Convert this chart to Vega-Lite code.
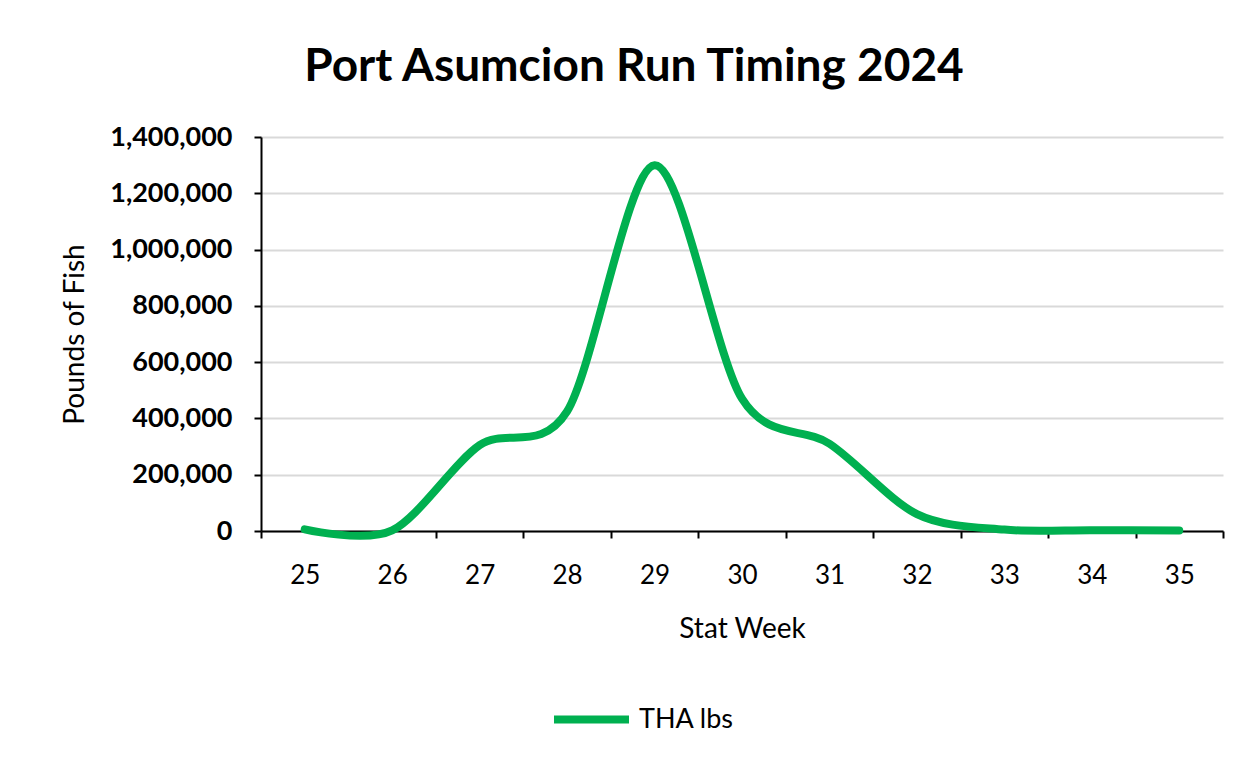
{
  "$schema": "https://vega.github.io/schema/vega-lite/v6.json",
  "autosize": "none",
  "width": 962,
  "height": 394,
  "padding": {"left": 261, "top": 137, "right": 36, "bottom": 230},
  "background": "white",
  "title": {
    "text": "Port Asumcion Run Timing 2024",
    "font": "Lato",
    "fontSize": 46,
    "fontWeight": "bold",
    "color": "black",
    "anchor": "middle",
    "dx": -108,
    "offset": 32
  },
  "data": {
    "values": [
      {"week": "25", "lbs": 6000, "series": "THA lbs"},
      {"week": "26", "lbs": 2000, "series": "THA lbs"},
      {"week": "27", "lbs": 305000, "series": "THA lbs"},
      {"week": "28", "lbs": 425000, "series": "THA lbs"},
      {"week": "29", "lbs": 1300000, "series": "THA lbs"},
      {"week": "30", "lbs": 470000, "series": "THA lbs"},
      {"week": "31", "lbs": 310000, "series": "THA lbs"},
      {"week": "32", "lbs": 60000, "series": "THA lbs"},
      {"week": "33", "lbs": 5000, "series": "THA lbs"},
      {"week": "34", "lbs": 3000, "series": "THA lbs"},
      {"week": "35", "lbs": 2000, "series": "THA lbs"}
    ]
  },
  "mark": {"type": "line", "interpolate": "cardinal", "tension": 0.1, "strokeWidth": 8, "strokeCap": "round"},
  "encoding": {
    "x": {
      "field": "week",
      "type": "ordinal",
      "bandPosition": 0.5,
      "scale": {"type": "band", "paddingInner": 0, "paddingOuter": 0},
      "axis": {
        "title": "Stat Week",
        "labelAngle": 0,
        "tickBand": "extent",
        "domainColor": "black",
        "domainWidth": 2,
        "tickColor": "black",
        "tickWidth": 2,
        "tickSize": 7,
        "labelPadding": 24,
        "labelFont": "Lato",
        "labelFontSize": 26,
        "labelColor": "black",
        "titleFont": "Lato",
        "titleFontSize": 28,
        "titleFontWeight": "normal",
        "titleColor": "black",
        "titlePadding": 27,
        "grid": false
      }
    },
    "y": {
      "field": "lbs",
      "type": "quantitative",
      "scale": {"domain": [0, 1400000], "nice": false},
      "axis": {
        "title": "Pounds of Fish",
        "values": [0, 200000, 400000, 600000, 800000, 1000000, 1200000, 1400000],
        "format": ",d",
        "domainColor": "black",
        "domainWidth": 2,
        "tickColor": "black",
        "tickWidth": 2,
        "tickSize": 7,
        "labelPadding": 22,
        "labelFont": "Lato",
        "labelFontSize": 27,
        "labelFontWeight": "bold",
        "labelColor": "black",
        "titleFont": "Lato",
        "titleFontSize": 28,
        "titleFontWeight": "normal",
        "titleColor": "black",
        "titlePadding": 20,
        "grid": true,
        "gridColor": "#d9d9d9",
        "gridWidth": 2
      }
    },
    "color": {
      "field": "series",
      "type": "nominal",
      "scale": {"range": ["#00B050"]},
      "legend": {
        "title": null,
        "orient": "none",
        "legendX": 289,
        "legendY": 541,
        "symbolType": "stroke",
        "symbolSize": 5625,
        "symbolStrokeWidth": 8,
        "labelFont": "Lato",
        "labelFontSize": 27,
        "labelColor": "black",
        "labelOffset": 6
      }
    }
  },
  "config": {"view": {"stroke": null}}
}
